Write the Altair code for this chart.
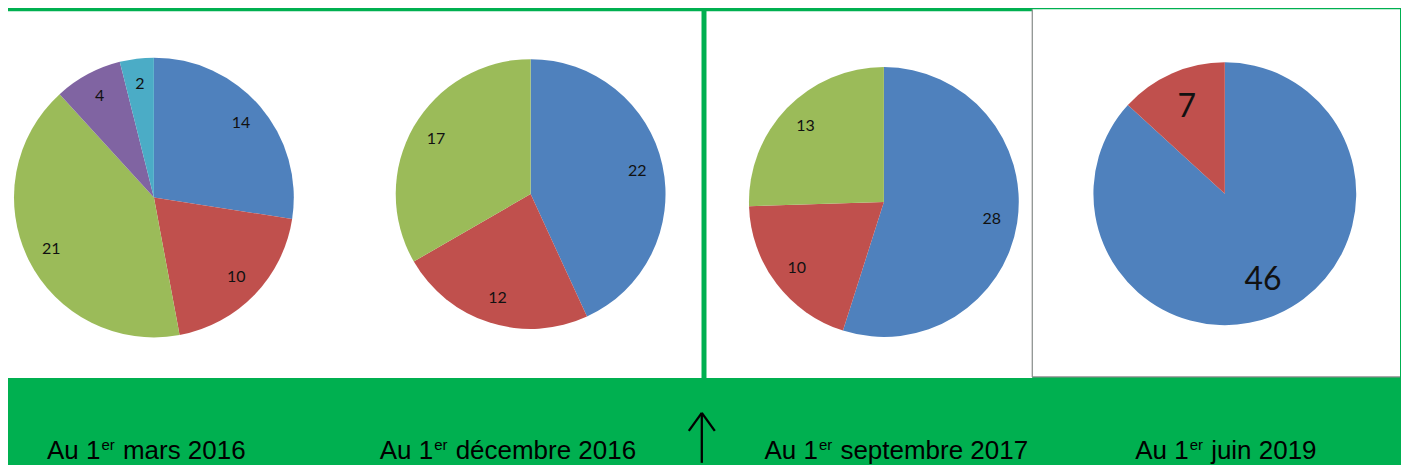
import altair as alt
import pandas as pd

# ---- data ----
dates = ["mars 2016", "décembre 2016", "septembre 2017", "juin 2019"]
values_mars_2016 = [14, 10, 21, 4, 2]
values_dec_2016 = [22, 12, 17]
values_sep_2017 = [28, 10, 13]
values_jun_2019 = [46, 7]
slice_colors = ["#4F81BD", "#C0504D", "#9BBB59", "#8064A2", "#4BACC6"]

all_values = [values_mars_2016, values_dec_2016, values_sep_2017, values_jun_2019]

# ---- layout (chart pixel coords) ----
W, H = 1393, 454
GREEN = "#00B050"
# (center x, center y, radius, label radius fraction, label font size)
pie_layout = [
    (146, 188.5, 140, 0.82, 16),
    (523, 185, 135, 0.81, 16),
    (876.5, 193, 135, 0.81, 16),
    (1217.7, 184.7, 131.5, 0.72, 32),
]
label_starts = [39, 372, 757, 1128]
label_baseline = 450

one = pd.DataFrame({"d": [0]})


def rect(x, x2, y, y2, fill):
    return alt.Chart(one).mark_rect(color=fill).encode(
        x=alt.value(x), x2=alt.value(x2), y=alt.value(y), y2=alt.value(y2)
    )


def line(x, y, x2, y2, color, width):
    return alt.Chart(one).mark_rule(color=color, strokeWidth=width).encode(
        x=alt.value(x), y=alt.value(y), x2=alt.value(x2), y2=alt.value(y2)
    )


layers = []
# white panels
layers.append(rect(0, 694, 2, 369, "white"))
layers.append(rect(699, 1025, 2, 369, "white"))
layers.append(rect(1025, W, 0, 368, "white"))
layers.append(line(1025, 0, 1025, 368, "#8C8C8C", 1.2))
layers.append(line(1025, 368, W, 368, "#8C8C8C", 1.2))

# pies
for vals, (cx, cy, r, f, fs) in zip(all_values, pie_layout):
    df = pd.DataFrame({
        "i": list(range(len(vals))),
        "v": vals,
        "c": slice_colors[: len(vals)],
    })
    base = alt.Chart(df).encode(
        theta=alt.Theta("v:Q", stack="normalize"),
        order=alt.Order("i:Q"),
    )
    arc = base.mark_arc(outerRadius=r).encode(
        color=alt.Color("c:N", scale=None),
        x=alt.value(cx), y=alt.value(cy),
    )
    txt = base.mark_text(radius=r * f, font="Lato", fontSize=fs, color="#111111").encode(
        text="v:Q", x=alt.value(cx), y=alt.value(cy)
    )
    layers.append(arc)
    layers.append(txt)

# bottom labels "Au 1er <date>"
for d, x0 in zip(dates, label_starts):
    layers.append(
        alt.Chart(one).mark_text(
            text="Au 1", font="Liberation Sans", fontSize=26, align="left",
            baseline="alphabetic", color="black"
        ).encode(x=alt.value(x0), y=alt.value(label_baseline))
    )
    layers.append(
        alt.Chart(one).mark_text(
            text="er", font="Liberation Sans", fontSize=15, align="left",
            baseline="alphabetic", color="black"
        ).encode(x=alt.value(x0 + 54.5), y=alt.value(label_baseline - 8.5))
    )
    layers.append(
        alt.Chart(one).mark_text(
            text=d, font="Liberation Sans", fontSize=26, align="left",
            baseline="alphabetic", color="black"
        ).encode(x=alt.value(x0 + 76), y=alt.value(label_baseline))
    )

# arrow
ax, tip = 694.3, 404
layers.append(line(ax, tip, ax, H, "black", 2.3))
layers.append(line(ax, tip, ax - 13, tip + 18, "black", 2.3))
layers.append(line(ax, tip, ax + 13, tip + 18, "black", 2.3))

chart = (
    alt.layer(*layers)
    .properties(width=W, height=H, padding=0, background=GREEN)
    .configure_view(stroke=None)
)

chart.save("out.html", embed_options={"renderer": "svg", "actions": False})
